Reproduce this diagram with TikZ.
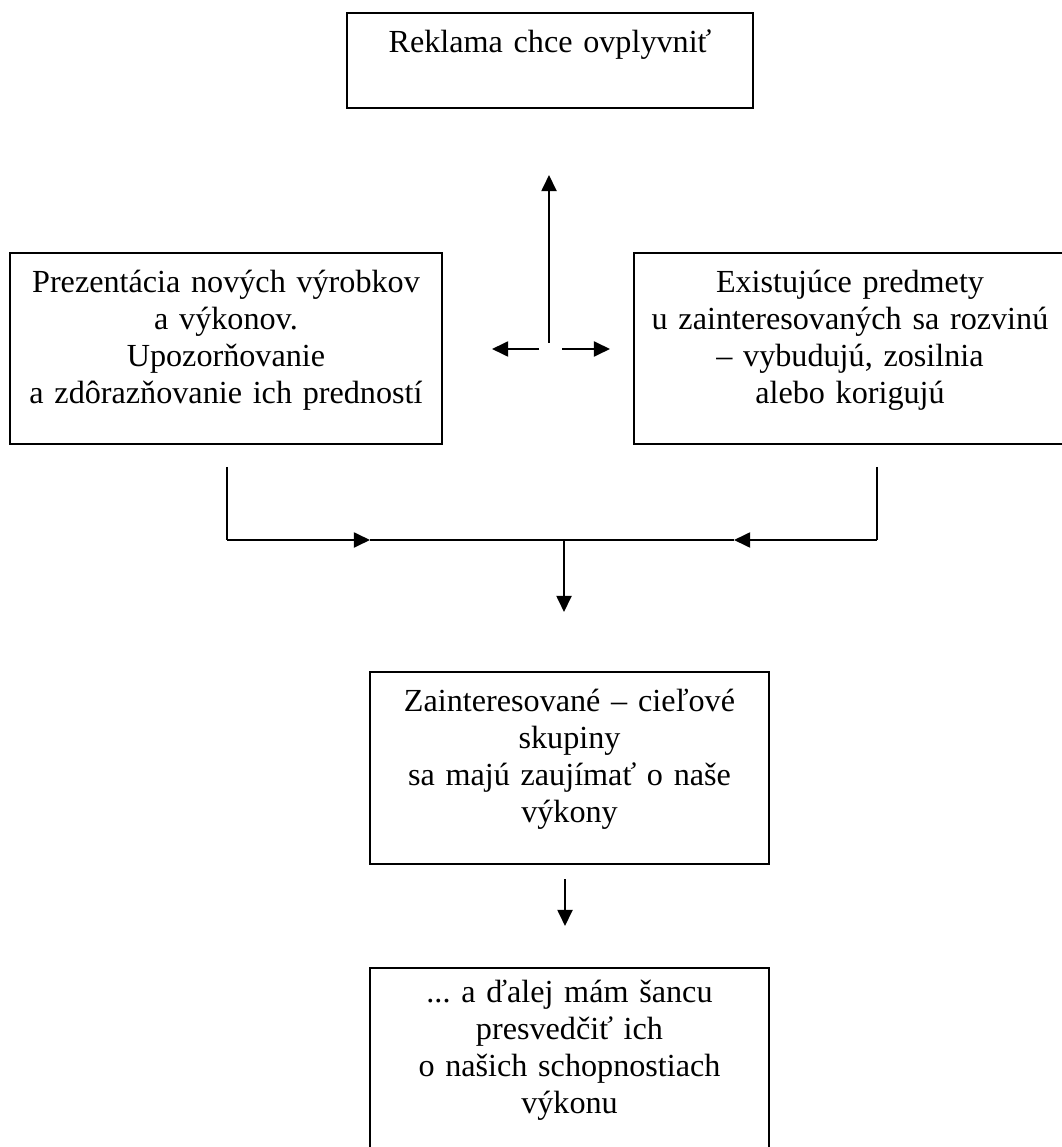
\documentclass[tikz,border=0pt]{standalone}
\usepackage{fontspec}
\setmainfont{Liberation Serif}
\usetikzlibrary{arrows.meta}
\frenchspacing
\tikzset{
  box/.style={draw, line width=0.75pt, inner xsep=0pt, inner ysep=0pt,
    anchor=north, align=center, text height=14.9pt,
    font=\fontsize{12}{13.8}\selectfont},
  link/.style={line width=0.75pt},
  tip/.style={link, -{Triangle[length=6pt,width=5.6pt]}}
}
\begin{document}
\begin{tikzpicture}[x=0.373pt, y=-0.373pt]
  \useasboundingbox (0,0) rectangle (1061,1147);
  \node[box, text width=151.4pt, text depth=20.5pt] (reklama) at (550,12)
    {Reklama chce ovplyvniť};
  \node[box, text width=161.1pt, text depth=56.3pt] (prezentacia) at (226,252)
    {Prezentácia nových výrobkov\\ a výkonov.\\ Upozorňovanie\\ a zdôrazňovanie ich predností};
  \node[box, text width=161.1pt, text depth=56.3pt] (predmety) at (850,252)
    {Existujúce predmety\\ u zainteresovaných sa rozvinú\\ – vybudujú, zosilnia\\ alebo korigujú};
  \node[box, text width=148.8pt, text depth=56.7pt] (skupiny) at (569.5,671)
    {Zainteresované – cieľové\\ skupiny\\ sa majú zaujímať o naše\\ výkony};
  \node[box, text width=148.8pt, text height=12.7pt, text depth=61.2pt] (sanca) at (569.5,967)
    {... a ďalej mám šancu\\ presvedčiť ich\\ o našich schopnostiach\\ výkonu};
  % free ends of the arrows
  \coordinate (upfoot) at (549,343);
  \coordinate (uptip) at (549,175);
  \coordinate (lfoot) at (539,349);
  \coordinate (ltip) at (492,349);
  \coordinate (rfoot) at (562,349);
  \coordinate (rtip) at (610,349);
  \coordinate (ltop) at (227,467);
  \coordinate (lcorner) at (227,540);
  \coordinate (lmark) at (370,540);
  \coordinate (join) at (564,540);
  \coordinate (rmark) at (734,540);
  \coordinate (rcorner) at (877,540);
  \coordinate (rtop) at (877,467);
  \coordinate (jointip) at (564,612);
  \coordinate (midfoot) at (565,879);
  \coordinate (midtip) at (565,926);
  \begin{scope}[link]
    \draw[tip] (upfoot) to (uptip);
    \draw[tip] (lfoot) to (ltip);
    \draw[tip] (rfoot) to (rtip);
    \draw (ltop) -- (lcorner);
    \draw[tip] (lcorner) to (lmark);
    \draw (lmark) to (rmark);
    \draw (rtop) -- (rcorner);
    \draw[tip] (rcorner) to (rmark);
    \draw[tip] (join) to (jointip);
    \draw[tip] (midfoot) to (midtip);
  \end{scope}
\end{tikzpicture}
\end{document}
